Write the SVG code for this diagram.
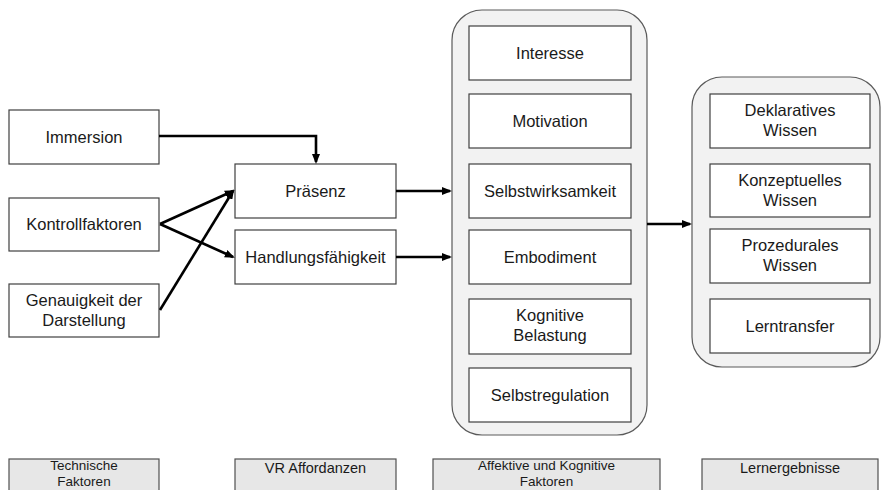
<svg xmlns="http://www.w3.org/2000/svg" width="882" height="490" viewBox="0 0 882 490">
  <style>
    .box { fill: #ffffff; stroke: #404040; stroke-width: 1.2; }
    .group { fill: #f2f2f2; stroke: #5a5a5a; stroke-width: 1.2; }
    .legend { fill: #e7e7e7; stroke: #505050; stroke-width: 1.2; }
    .lbl { font-family: "Liberation Sans", Arial, sans-serif; font-size: 16.5px; fill: #1a1a1a; text-anchor: middle; }
    .leg { font-family: "Liberation Sans", Arial, sans-serif; font-size: 14.5px; fill: #1a1a1a; text-anchor: middle; }
    .leg2 { font-size: 13.5px; }
    .edge { fill: none; stroke: #000000; stroke-width: 2.6; }
  </style>
  <defs>
    <marker id="arrow" viewBox="0 0 10 8" markerWidth="10" markerHeight="8" refX="8" refY="4" orient="auto" markerUnits="userSpaceOnUse">
      <path d="M0,0 L10,4 L0,8 Z" fill="#000000"/>
    </marker>
  </defs>
  <rect width="882" height="490" fill="#ffffff"/>

  <!-- grouping containers -->
  <g id="affektiv-kognitiv">
    <rect class="group" x="452" y="10" width="195" height="425" rx="30" ry="30"/>
  </g>
  <g id="lernergebnisse-gruppe">
    <rect class="group" x="692" y="77" width="188" height="290" rx="30" ry="30"/>
  </g>

  <!-- technical factors -->
  <g id="immersion">
    <rect class="box" x="9" y="110" width="150" height="54"/>
    <text class="lbl" x="84" y="143">Immersion</text>
  </g>
  <g id="kontrollfaktoren">
    <rect class="box" x="9" y="198" width="150" height="53"/>
    <text class="lbl" x="84" y="230">Kontrollfaktoren</text>
  </g>
  <g id="genauigkeit">
    <rect class="box" x="9" y="284" width="150" height="53"/>
    <text class="lbl" x="84" y="306">Genauigkeit der</text>
    <text class="lbl" x="84" y="326">Darstellung</text>
  </g>

  <!-- VR affordances -->
  <g id="praesenz">
    <rect class="box" x="235" y="164" width="161" height="54"/>
    <text class="lbl" x="315.5" y="197">Präsenz</text>
  </g>
  <g id="handlungsfaehigkeit">
    <rect class="box" x="235" y="230" width="161" height="54"/>
    <text class="lbl" x="315.5" y="263">Handlungsfähigkeit</text>
  </g>

  <!-- affective and cognitive factors -->
  <g id="interesse">
    <rect class="box" x="469" y="26" width="162" height="54"/>
    <text class="lbl" x="550" y="59">Interesse</text>
  </g>
  <g id="motivation">
    <rect class="box" x="469" y="94" width="162" height="54"/>
    <text class="lbl" x="550" y="127">Motivation</text>
  </g>
  <g id="selbstwirksamkeit">
    <rect class="box" x="469" y="164" width="162" height="54"/>
    <text class="lbl" x="550" y="197">Selbstwirksamkeit</text>
  </g>
  <g id="embodiment">
    <rect class="box" x="469" y="230" width="162" height="54"/>
    <text class="lbl" x="550" y="263">Embodiment</text>
  </g>
  <g id="kognitive-belastung">
    <rect class="box" x="469" y="299" width="162" height="55"/>
    <text class="lbl" x="550" y="321">Kognitive</text>
    <text class="lbl" x="550" y="341">Belastung</text>
  </g>
  <g id="selbstregulation">
    <rect class="box" x="469" y="368" width="162" height="54"/>
    <text class="lbl" x="550" y="401">Selbstregulation</text>
  </g>

  <!-- learning outcomes -->
  <g id="deklaratives-wissen">
    <rect class="box" x="710" y="94" width="160" height="54"/>
    <text class="lbl" x="790" y="116">Deklaratives</text>
    <text class="lbl" x="790" y="136">Wissen</text>
  </g>
  <g id="konzeptuelles-wissen">
    <rect class="box" x="710" y="164" width="160" height="53"/>
    <text class="lbl" x="790" y="186">Konzeptuelles</text>
    <text class="lbl" x="790" y="206">Wissen</text>
  </g>
  <g id="prozedurales-wissen">
    <rect class="box" x="710" y="229" width="160" height="54"/>
    <text class="lbl" x="790" y="251">Prozedurales</text>
    <text class="lbl" x="790" y="271">Wissen</text>
  </g>
  <g id="lerntransfer">
    <rect class="box" x="710" y="299" width="160" height="54"/>
    <text class="lbl" x="790" y="332">Lerntransfer</text>
  </g>

  <!-- connectors -->
  <g id="connectors">
    <path class="edge" d="M159,136 H316 V162" marker-end="url(#arrow)"/>
    <path class="edge" d="M160,224 L233,191" marker-end="url(#arrow)"/>
    <path class="edge" d="M160,224 L233,257" marker-end="url(#arrow)"/>
    <path class="edge" d="M160,310 L233,191" marker-end="url(#arrow)"/>
    <path class="edge" d="M396,191 H450" marker-end="url(#arrow)"/>
    <path class="edge" d="M396,257 H450" marker-end="url(#arrow)"/>
    <path class="edge" d="M647,224 H690" marker-end="url(#arrow)"/>
  </g>

  <!-- column legends -->
  <g id="legend-technisch">
    <rect class="legend" x="9" y="459" width="150" height="40"/>
    <text class="leg leg2" x="84" y="470">Technische</text>
    <text class="leg leg2" x="84" y="486">Faktoren</text>
  </g>
  <g id="legend-vr">
    <rect class="legend" x="235" y="459" width="161" height="40"/>
    <text class="leg" x="315.5" y="473">VR Affordanzen</text>
  </g>
  <g id="legend-affektiv">
    <rect class="legend" x="433" y="459" width="227" height="40"/>
    <text class="leg leg2" x="546.5" y="470">Affektive und Kognitive</text>
    <text class="leg leg2" x="546.5" y="486">Faktoren</text>
  </g>
  <g id="legend-lernergebnisse">
    <rect class="legend" x="702" y="459" width="176" height="40"/>
    <text class="leg" x="790" y="473">Lernergebnisse</text>
  </g>
</svg>
